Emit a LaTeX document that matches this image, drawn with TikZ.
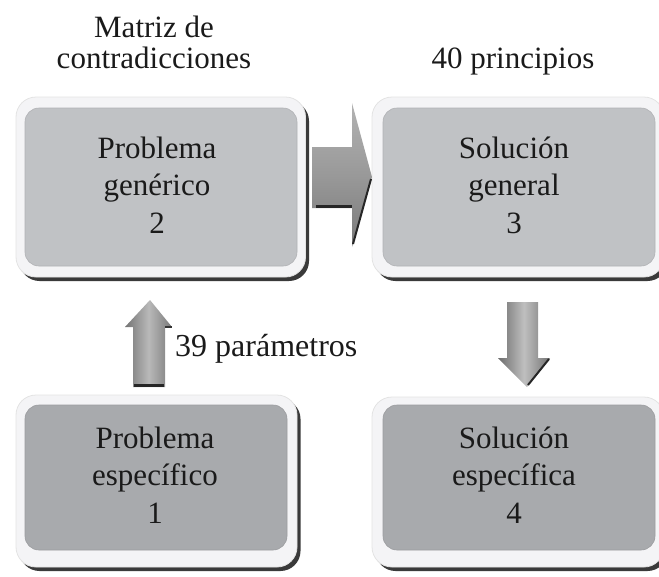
\documentclass[tikz,border=0pt]{standalone}
\usepackage{fontspec}
\setmainfont{Liberation Serif}
\definecolor{boxlight}{HTML}{C0C2C5}
\definecolor{boxdark}{HTML}{A8AAAD}
\definecolor{framecol}{HTML}{F4F4F6}
\definecolor{shadowcol}{HTML}{3A3A3A}
\definecolor{txt}{HTML}{1A1A1A}
\begin{document}
\begin{tikzpicture}[x=1pt,y=-1pt,
  frameshape/.style={rounded corners=20pt, fill=framecol, draw=gray!22, line width=0.8pt},
  shadowshape/.style={rounded corners=20pt, fill=shadowcol},
  greybox/.style={rectangle, rounded corners=14pt, draw=#1!92!black, fill=#1, line width=0.6pt, inner sep=0pt},
  boxtext/.style={align=center, text=txt, inner sep=0pt, font=\fontsize{31}{37.5}\selectfont},
  lbl/.style={align=center, text=txt, inner sep=0pt, font=\fontsize{31}{31}\selectfont},
  darkedge/.style={draw=black!85, line width=2.5pt},
]
\useasboundingbox (0,0) rectangle (659,576);
% ---- box 2 (top left)
\fill[shadowshape] (19.5,101) rectangle (309,281);
\filldraw[frameshape] (16,97) rectangle (305.5,277);
\node[greybox=boxlight, minimum width=272pt, minimum height=158pt] (b2) at (161,187) {};
\node[boxtext] (t2) at (157,185) {Problema\\genérico\\2};
% ---- box 3 (top right)
\fill[shadowshape] (375.5,101) rectangle (667.5,281);
\filldraw[frameshape] (372,97) rectangle (664,277);
\node[greybox=boxlight, minimum width=272pt, minimum height=158pt] (b3) at (519,187) {};
\node[boxtext] (t3) at (514,185) {Solución\\general\\3};
% ---- box 1 (bottom left)
\fill[shadowshape] (19.5,399) rectangle (300.5,571);
\filldraw[frameshape] (16,395) rectangle (297,567);
\node[greybox=boxdark, minimum width=262pt, minimum height=145pt] (b1) at (156,477.5) {};
\node[boxtext] (t1) at (155,475) {Problema\\específico\\1};
% ---- box 4 (bottom right)
\fill[shadowshape] (375.5,401) rectangle (667.5,571);
\filldraw[frameshape] (372,397) rectangle (664,567);
\node[greybox=boxdark, minimum width=272pt, minimum height=145pt] (b4) at (519,477.5) {};
\node[boxtext] (t4) at (514,475) {Solución\\específica\\4};
% ---- labels
\node[lbl] (matriz) at (154,42) {Matriz de\\contradicciones};
\node[lbl, anchor=base] (principios) at (513,68) {40 principios};
\node[lbl, anchor=base west, font=\fontsize{32}{32}\selectfont] (param) at (175,356) {39 parámetros};
% ---- right arrow (2 -> 3)
\shade[top color=gray!60, bottom color=gray!95!black, middle color=gray!80]
  (312,147) -- (352,147) -- (352,103) -- (372,177) -- (352,247) -- (352,208) -- (312,208) -- cycle;
\draw[darkedge] (316,206.5) -- (352,206.5);
\draw[darkedge, line width=2pt] (371,179) -- (353,244);
% ---- up arrow (1 -> 2)
\shade[left color=gray!90!black, right color=gray!95!black, middle color=gray!55]
  (133,387) -- (133,327) -- (125,327) -- (150,300) -- (172,327) -- (165,327) -- (165,387) -- cycle;
\draw[darkedge] (134,385.5) -- (164,385.5);
\draw[black!80, line width=1.5pt] (165,327) -- (172,327);
% ---- down arrow (3 -> 4)
\shade[left color=gray!85!black, right color=gray!90!black, middle color=gray!50]
  (507,302) -- (538,302) -- (538,358) -- (550,358) -- (527,387) -- (498,358) -- (507,358) -- cycle;
\draw[darkedge, line width=2pt] (549,359) -- (528,385);
\end{tikzpicture}
\end{document}
